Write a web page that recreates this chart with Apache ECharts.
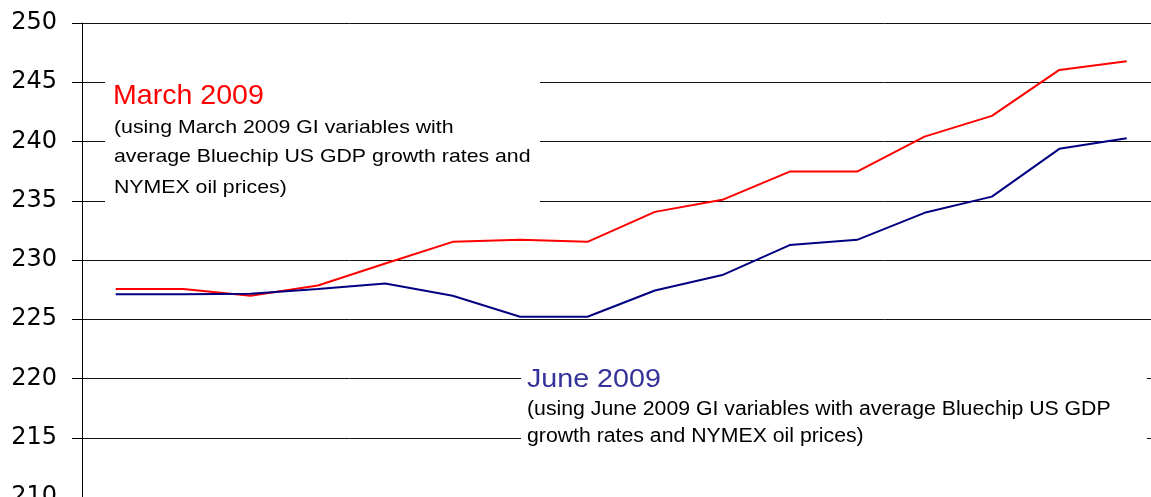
<!DOCTYPE html>
<html>
<head>
<meta charset="utf-8">
<script src="https://cdn.jsdelivr.net/npm/echarts@6/dist/echarts.min.js"></script>
<style>
html,body{margin:0;padding:0;background:#fff;}
#chart{width:1151px;height:497px;}
</style>
</head>
<body>
<div id="chart"></div>
<script>
var periods = ['P1','P2','P3','P4','P5','P6','P7','P8','P9','P10','P11','P12','P13','P14','P15','P16'];
var march2009 = [227.55, 227.55, 226.98, 227.85, 229.7, 231.53, 231.7, 231.53, 234.06, 235.08, 237.46, 237.46, 240.41, 242.16, 246.04, 246.77];
var june2009 = [227.1, 227.1, 227.15, 227.55, 228.02, 226.98, 225.21, 225.21, 227.43, 228.73, 231.26, 231.7, 233.98, 235.35, 239.38, 240.28];
var yTicks = [210, 215, 220, 225, 230, 235, 240, 245, 250];

var marchTitle = 'March 2009';
var marchNote = ['(using March 2009 GI variables with', 'average Bluechip US GDP growth rates and', 'NYMEX oil prices)'];
var juneTitle = 'June 2009';
var juneNote = ['(using June 2009 GI variables with average Bluechip US GDP', 'growth rates and NYMEX oil prices)'];

var chart = echarts.init(document.getElementById('chart'));

function txt(str, x, y, size, color, sx, z) {
  return {
    type: 'text', x: x, y: y, scaleX: sx, z: z || 6, silent: true,
    style: { text: str, x: 0, y: 0, fill: color, font: size + 'px "Liberation Sans", Arial, sans-serif',
             textAlign: 'left', textVerticalAlign: 'middle' }
  };
}

var graphics = [
  { type: 'rect', z: 5, silent: true, shape: { x: 105, y: 72, width: 435, height: 136 }, style: { fill: '#fff' } },
  { type: 'rect', z: 5, silent: true, shape: { x: 521, y: 362, width: 626, height: 90 }, style: { fill: '#fff' } },
  txt(marchTitle, 113, 96, 28, '#ff0000', 1.02),
  txt(marchNote[0], 114, 128, 18.6, '#000', 1.145),
  txt(marchNote[1], 114, 157, 18.6, '#000', 1.145),
  txt(marchNote[2], 114, 188, 18.6, '#000', 1.145),
  txt(juneTitle, 527, 380, 25.6, '#333399', 1.12),
  txt(juneNote[0], 527, 410, 19.5, '#000', 1.09),
  txt(juneNote[1], 527, 437, 19.5, '#000', 1.09)
];

chart.setOption({
  animation: false,
  backgroundColor: '#fff',
  grid: { left: 82, right: -9.4, top: 23, bottom: 0, containLabel: false, outerBoundsMode: 'none' },
  xAxis: {
    type: 'category', data: periods, boundaryGap: true,
    axisLine: { show: false }, axisTick: { show: false }, axisLabel: { show: false }, splitLine: { show: false }
  },
  yAxis: {
    type: 'value', min: yTicks[0], max: yTicks[yTicks.length - 1], interval: 5,
    axisLine: { show: true, lineStyle: { color: '#000', width: 1 } },
    axisTick: { show: true, length: 10, lineStyle: { color: '#000', width: 1 } },
    axisLabel: { color: '#000', fontSize: 24, fontFamily: '"DejaVu Sans", sans-serif', margin: 25 },
    splitLine: { show: true, lineStyle: { color: '#111', width: 1 } }
  },
  series: [
    { name: marchTitle, type: 'line', data: march2009, symbol: 'none', z: 3,
      lineStyle: { color: '#ff0000', width: 2 } },
    { name: juneTitle, type: 'line', data: june2009, symbol: 'none', z: 3,
      lineStyle: { color: '#000080', width: 2 } }
  ],
  graphic: graphics
});
</script>
</body>
</html>
